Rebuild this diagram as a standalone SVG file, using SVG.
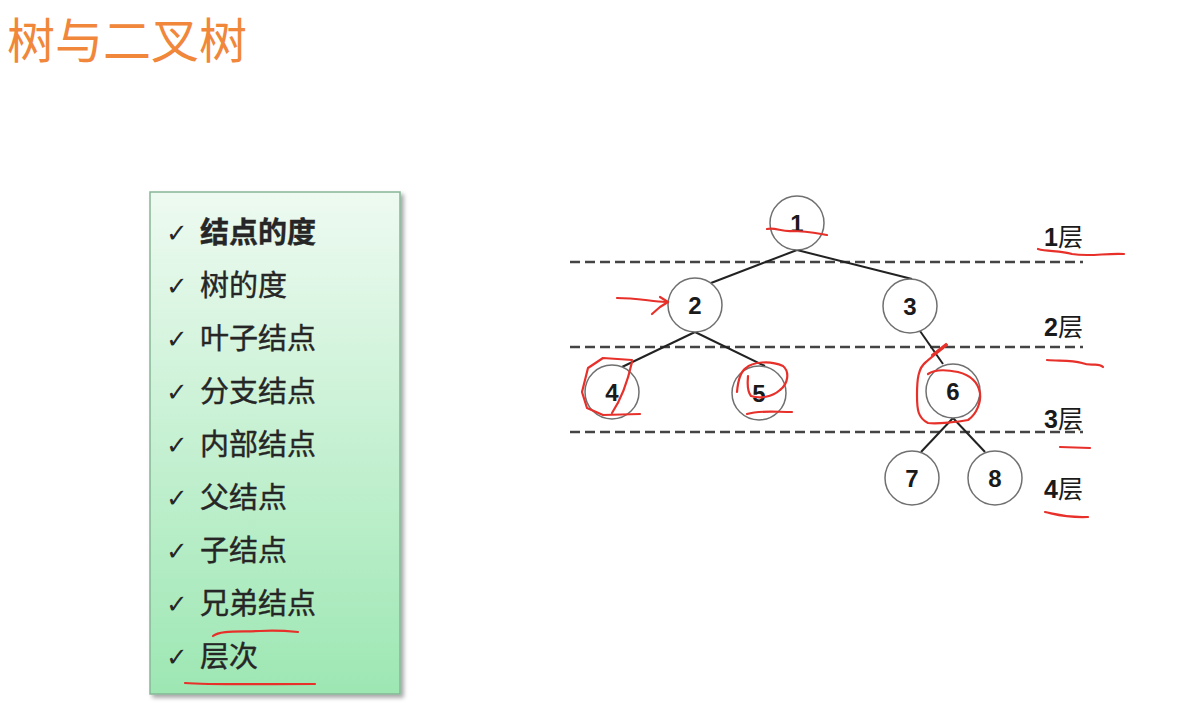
<svg xmlns="http://www.w3.org/2000/svg" width="1177" height="709" viewBox="0 0 1177 709">
<defs>
<linearGradient id="panelGrad" x1="0" y1="0" x2="0" y2="1">
<stop offset="0" stop-color="#eefaf1"/>
<stop offset="1" stop-color="#9de7b3"/>
</linearGradient>
<filter id="shadow" x="-5%" y="-5%" width="115%" height="110%">
<feDropShadow dx="3" dy="3" stdDeviation="2" flood-color="#000" flood-opacity="0.35"/>
</filter>
</defs>
<style>
.title{font-family:"Noto Sans CJK SC","Noto Sans",sans-serif;font-size:48px;fill:#f0873a;}
.item{font-family:"Noto Sans CJK SC","Noto Sans",sans-serif;font-size:29px;fill:#262626;stroke:#262626;stroke-width:0.4;}
.check{font-family:"DejaVu Sans",sans-serif;font-size:26px;font-weight:bold;fill:#262626;}
.node circle{fill:#fff;stroke:#707070;stroke-width:1.5;}
.node text{font-family:"Liberation Sans",Arial,sans-serif;font-weight:bold;font-size:24px;fill:#1a1a1a;text-anchor:middle;}
.edge{stroke:#222;stroke-width:2;fill:none;}
.dash{stroke:#444;stroke-width:2.5;stroke-dasharray:10 5;fill:none;}
.lvl{font-family:"Liberation Sans","Noto Sans CJK SC",sans-serif;font-size:25px;fill:#1a1a1a;}
.red{stroke:#e8302a;stroke-width:2.2;fill:none;stroke-linecap:round;stroke-linejoin:round;}
</style>
<rect width="1177" height="709" fill="#fff"/>
<text class="title" x="7" y="58">树与二叉树</text>

<g id="panel">
<rect x="150" y="192" width="250" height="502" fill="url(#panelGrad)" stroke="#86b696" stroke-width="1.5" filter="url(#shadow)"/>
<g class="check">
<text x="166" y="242">✓</text><text x="166" y="295">✓</text><text x="166" y="348">✓</text>
<text x="166" y="401">✓</text><text x="166" y="454">✓</text><text x="166" y="507">✓</text>
<text x="166" y="560">✓</text><text x="166" y="613">✓</text><text x="166" y="666">✓</text>
</g>
<text class="item" x="200" y="243" font-weight="bold">结点的度</text>
<text class="item" x="200" y="296">树的度</text>
<text class="item" x="200" y="349">叶子结点</text>
<text class="item" x="200" y="402">分支结点</text>
<text class="item" x="200" y="455">内部结点</text>
<text class="item" x="200" y="508">父结点</text>
<text class="item" x="200" y="561">子结点</text>
<text class="item" x="200" y="614">兄弟结点</text>
<text class="item" x="200" y="667">层次</text>
</g>

<g id="levels">
<path class="dash" d="M570 262 H1083"/>
<path class="dash" d="M570 347 H1083"/>
<path class="dash" d="M570 432 H1083"/>
<text class="lvl" x="1044" y="246"><tspan font-weight="bold">1</tspan>层</text>
<text class="lvl" x="1044" y="336"><tspan font-weight="bold">2</tspan>层</text>
<text class="lvl" x="1044" y="428"><tspan font-weight="bold">3</tspan>层</text>
<text class="lvl" x="1044" y="498"><tspan font-weight="bold">4</tspan>层</text>
</g>

<g id="connectors">
<path class="edge" d="M797 250 L711 283"/>
<path class="edge" d="M797 250 L912 279"/>
<path class="edge" d="M695 332 L622 367"/>
<path class="edge" d="M695 332 L765 366"/>
<path class="edge" d="M920 331 L943 364"/>
<path class="edge" d="M953 418 L921 452"/>
<path class="edge" d="M953 418 L985 452"/>
</g>

<g id="n1" class="node"><circle cx="797" cy="223" r="27"/><text x="797" y="232">1</text></g>
<g id="n2" class="node"><circle cx="695" cy="305" r="27"/><text x="695" y="314">2</text></g>
<g id="n3" class="node"><circle cx="910" cy="306" r="27"/><text x="910" y="315">3</text></g>
<g id="n4" class="node"><circle cx="612" cy="392" r="27"/><text x="612" y="401">4</text></g>
<g id="n5" class="node"><circle cx="759" cy="393" r="27"/><text x="759" y="402">5</text></g>
<g id="n6" class="node"><circle cx="953" cy="391" r="27"/><text x="953" y="400">6</text></g>
<g id="n7" class="node"><circle cx="912" cy="478" r="27"/><text x="912" y="487">7</text></g>
<g id="n8" class="node"><circle cx="995" cy="478" r="27"/><text x="995" y="487">8</text></g>

<g id="annotations">
<path class="red" d="M767 229 C775 227 782 232 792 231 C805 231 815 233 827 235"/>
<path class="red" d="M1038 249 C1048 252 1060 250 1072 254 C1090 257 1105 253 1124 254"/>
<path class="red" d="M1047 360 C1060 361 1072 360 1082 363 C1092 367 1098 362 1103 367"/>
<path class="red" d="M1060 447 L1090 448"/>
<path class="red" d="M1045 512 C1055 514 1065 518 1088 517"/>
<path class="red" d="M617 298 C635 298 650 301 666 302"/>
<path class="red" d="M660 297 L668 302 L660 307 L652 314" stroke-width="3"/>
<path class="red" d="M632 360 L603 358 L588 368 L582 392 L587 408 L603 415 L640 414"/>
<path class="red" d="M632 362 C628 380 622 398 612 413"/>
<path class="red" d="M737 392 C738 380 740 372 746 368 C752 362 770 360 783 366 C790 372 788 384 780 390 C772 397 760 399 751 396 C746 390 748 380 748 376"/>
<path class="red" d="M747 414 C760 410 775 412 792 412"/>
<path class="red" d="M932 355 L946 344"/>
<path class="red" d="M947 345 C938 352 930 358 926 362 C918 368 917 380 917 395 C917 410 918 418 928 423 C938 424 958 422 968 420 C977 414 981 402 980 393 C978 382 970 375 958 372 C948 370 935 369 928 374"/>
<path class="red" d="M213 636 C220 630 240 632 260 631 C275 630 288 631 298 632"/>
<path class="red" d="M185 683 C210 685 260 684 315 684"/>
</g>
</svg>
